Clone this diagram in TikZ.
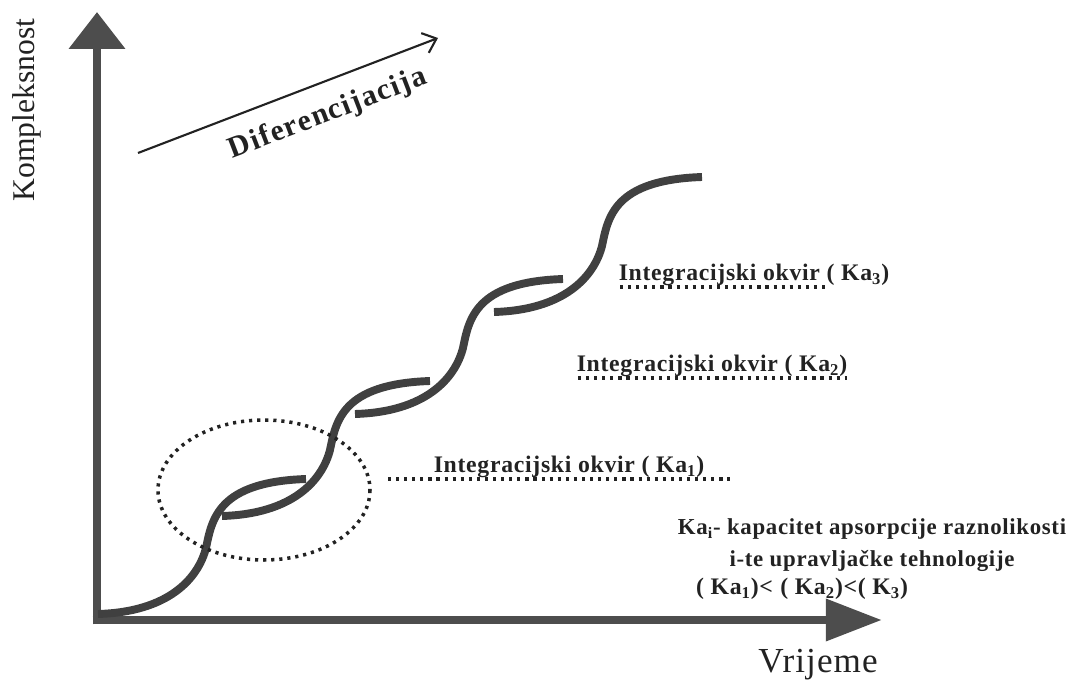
\documentclass[tikz,border=0pt]{standalone}
\usepackage{fontspec}
\setmainfont{Liberation Serif}
\usetikzlibrary{arrows.meta}
\definecolor{achse}{HTML}{4D4D4D}
\definecolor{kurve}{HTML}{404040}
\definecolor{schrift}{HTML}{222222}
\begin{document}
\begin{tikzpicture}[x={(0.02cm,0)},y={(0,-0.02cm)},
  achsen/.style={achse,line width=5pt},
  stufe/.style={kurve,line width=4.5pt},
  punkte/.style={schrift,line width=1.8pt,dash pattern=on 1.8pt off 2.8pt},
  lbl/.style={schrift,font=\fontsize{13.5}{16}\selectfont\bfseries\addfontfeatures{LetterSpace=3},inner sep=1pt},
  >={Straight Barb[length=7pt,width=12pt]}]
  \useasboundingbox (0,0) rectangle (1072,685);
  % Achsen
  \coordinate (O) at (97,620);
  \coordinate (ytip) at (97,12);
  \coordinate (xtip) at (882,620);
  \draw[achsen,-{Triangle[length=21pt,width=31pt]}] ([yshift=-2.5pt]O) -- (ytip);
  \draw[achsen,-{Triangle[length=32pt,width=23pt]}] ([xshift=-2.5pt]O) -- (xtip);
  \node[schrift,rotate=90,font=\fontsize{18}{20}\selectfont] (kompl) at (27,110) {Kompleksnost};
  \node[schrift,font=\fontsize{20}{22}\selectfont\addfontfeatures{LetterSpace=3}] (vrijeme) at (818,665) {Vrijeme};
  % Differenzierung
  \coordinate (d0) at (138,153);
  \coordinate (d1) at (438,38);
  \draw[schrift,line width=1.2pt,->] (d0) -- (d1);
  \node[schrift,rotate=21,font=\fontsize{17}{19}\selectfont\bfseries\addfontfeatures{LetterSpace=5}] (dif) at (328,114) {Diferencijacija};
  % Stufen
  \foreach \sx/\sy in {98/614,222/516,355/414,494/312}
    \draw[stufe,shift={(\sx,\sy)}] (0,0) .. controls (70,-2) and (100,-35) .. (108,-66)
      .. controls (114,-95) and (120,-132) .. (208,-135);
  % Ellipse
  \draw[punkte,line width=2pt] (264,490) ellipse [x radius=106,y radius=70];
  % Integrationsrahmen
  \node[lbl] (ka1) at (569,467) {Integracijski okvir ( Ka\textsubscript{1})};
  \node[lbl] (ka2) at (712,366) {Integracijski okvir ( Ka\textsubscript{2})};
  \node[lbl] (ka3) at (754,275) {Integracijski okvir ( Ka\textsubscript{3})};
  \draw[punkte] (388,479) -- (730,479);
  \draw[punkte] (578,378) -- (847,378);
  \draw[punkte] (620,287) -- (828,287);
  % Legende
  \node[lbl,font=\fontsize{13}{16}\selectfont\bfseries\addfontfeatures{LetterSpace=3},align=center] (leg) at (872,545) {Ka\textsubscript{i}- kapacitet apsorpcije raznolikosti\\[2pt] i-te upravljačke tehnologije};
  \node[lbl] (vgl) at (802,589) {( Ka\textsubscript{1})\textbf{<} ( Ka\textsubscript{2})\textbf{<}( K\textsubscript{3})};
\end{tikzpicture}
\end{document}
